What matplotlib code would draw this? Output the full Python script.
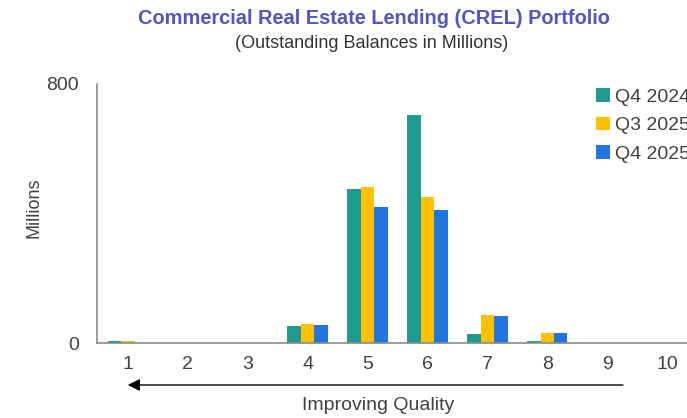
import numpy as np
import matplotlib
matplotlib.use('Agg')
import matplotlib.pyplot as plt

plt.rcParams['font.family'] = ['Liberation Sans', 'DejaVu Sans']

# Risk rating buckets and outstanding balances (millions)
ratings = ['1', '2', '3', '4', '5', '6', '7', '8', '9', '10']
q4_2024 = [7, 0, 0, 54, 474, 703, 28, 7, 0, 0]
q3_2025 = [6, 0, 0, 60, 480, 450, 87, 31, 0, 0]
q4_2025 = [0, 0, 0, 55, 421, 410, 85, 31, 0, 0]
series_labels = ['Q4 2024', 'Q3 2025', 'Q4 2025']
colors = ['#1f9a91', '#ffc000', '#2075de']

fig = plt.figure(figsize=(6.87, 4.18), dpi=100)
ax = fig.add_axes([97 / 687, 1 - 343.3 / 418, 603 / 687, 259.8 / 418])

x = np.arange(1, len(ratings) + 1)
w = 0.225
for i, (vals, lab, c) in enumerate(zip([q4_2024, q3_2025, q4_2025], series_labels, colors)):
    ax.bar(x + (i - 1) * w, vals, width=w, color=c, label=lab, zorder=2)

ax.set_xlim(0.483, 10.55)
ax.set_ylim(0, 800)
ax.set_yticks([0, 800])
ax.set_xticks(x)
ax.set_xticklabels(ratings)
ax.tick_params(axis='both', length=0, labelsize=14, labelcolor='#404040')
ax.tick_params(axis='x', pad=9)
ax.tick_params(axis='y', pad=13)

for s in ['top', 'right']:
    ax.spines[s].set_visible(False)
for s in ['left', 'bottom']:
    ax.spines[s].set_color('#8a8a8a')
    ax.spines[s].set_linewidth(1.2)

ax.set_ylabel('Millions', fontsize=13, color='#404040')
ax.yaxis.set_label_coords(-55 / 603, 0.52)

leg = ax.legend(loc='upper left', bbox_to_anchor=(596 / 687, 1 - 88 / 418),
                bbox_transform=fig.transFigure, frameon=False, fontsize=14,
                handlelength=0.7, handleheight=0.7, handletextpad=0.3,
                labelspacing=0.57, borderaxespad=0, borderpad=0)
for t in leg.get_texts():
    t.set_color('#404040')

fig.text(374 / 687, 1 - 19 / 418, 'Commercial Real Estate Lending (CREL) Portfolio',
         ha='center', va='center', fontsize=14.4, fontweight='bold', color='#5454c2')
fig.text(372 / 687, 1 - 44 / 418, '(Outstanding Balances in Millions)',
         ha='center', va='center', fontsize=13, color='#333333')

# Direction of improving credit quality
ax.annotate('', xy=(0.95, 1 - 385 / 418), xytext=(9.31, 1 - 385 / 418),
            xycoords=('data', 'figure fraction'), textcoords=('data', 'figure fraction'),
            arrowprops=dict(arrowstyle='-|>', color='black', lw=1.0, mutation_scale=18),
            annotation_clip=False)
fig.text(378 / 687, 1 - 405 / 418, 'Improving Quality', ha='center', va='center',
         fontsize=14, color='#404040')

fig.savefig('out.png', dpi=100)
